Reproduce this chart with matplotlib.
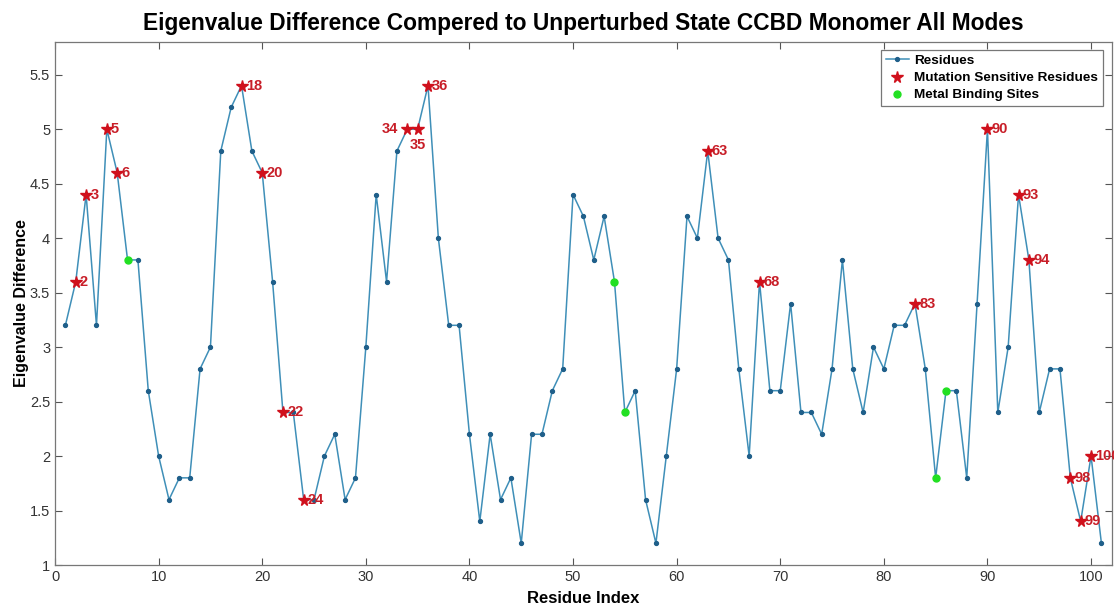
import numpy as np
import matplotlib.pyplot as plt

# eigenvalue difference per residue (1..101)
residues = np.arange(1, 102)
eig_diff = [3.2, 3.6, 4.4, 3.2, 5.0, 4.6, 3.8, 3.8, 2.6, 2.0,
            1.6, 1.8, 1.8, 2.8, 3.0, 4.8, 5.2, 5.4, 4.8, 4.6,
            3.6, 2.4, 2.4, 1.6, 1.6, 2.0, 2.2, 1.6, 1.8, 3.0,
            4.4, 3.6, 4.8, 5.0, 5.0, 5.4, 4.0, 3.2, 3.2, 2.2,
            1.4, 2.2, 1.6, 1.8, 1.2, 2.2, 2.2, 2.6, 2.8, 4.4,
            4.2, 3.8, 4.2, 3.6, 2.4, 2.6, 1.6, 1.2, 2.0, 2.8,
            4.2, 4.0, 4.8, 4.0, 3.8, 2.8, 2.0, 3.6, 2.6, 2.6,
            3.4, 2.4, 2.4, 2.2, 2.8, 3.8, 2.8, 2.4, 3.0, 2.8,
            3.2, 3.2, 3.4, 2.8, 1.8, 2.6, 2.6, 1.8, 3.4, 5.0,
            2.4, 3.0, 4.4, 3.8, 2.4, 2.8, 2.8, 1.8, 1.4, 2.0,
            1.2]

mutation_sites = [2, 3, 5, 6, 18, 20, 22, 24, 34, 35, 36, 63, 68, 83,
                  90, 93, 94, 98, 99, 100]
metal_sites = [7, 54, 55, 85, 86]

line_col = '#3f8fb8'
dot_col = '#1f5f8a'
star_col = '#d0101c'
text_col = '#c81e28'
green = '#22e022'

plt.rcParams['font.family'] = ['Liberation Sans', 'DejaVu Sans']

fig = plt.figure(figsize=(11.14, 6.08), dpi=100)
ax = fig.add_axes([0.0494, 0.0707, 0.9486, 0.8602])

vals = np.array(eig_diff)
ax.plot(residues, vals, '-', color=line_col, lw=1.1, marker='o', ms=2.8,
        mfc=dot_col, mec=dot_col, label='Residues', zorder=2)

mut_idx = np.array(mutation_sites)
ax.plot(mut_idx, vals[mut_idx - 1], '*', color=star_col, ms=8.5, ls='none',
        label='Mutation Sensitive Residues', zorder=3)

met_idx = np.array(metal_sites)
ax.plot(met_idx, vals[met_idx - 1], 'o', color=green, ms=5, ls='none',
        label='Metal Binding Sites', zorder=3)

for r in mutation_sites:
    v = vals[r - 1]
    if r == 34:
        ax.text(r - 0.9, v, str(r), color=text_col, fontsize=10.5,
                fontweight='bold', ha='right', va='center')
    elif r == 35:
        ax.text(r, v - 0.08, str(r), color=text_col, fontsize=10.5,
                fontweight='bold', ha='center', va='top')
    else:
        ax.text(r + 0.4, v, str(r), color=text_col, fontsize=10.5,
                fontweight='bold', ha='left', va='center')

ax.set_xlim(0, 102)
ax.set_ylim(1, 5.8)
ax.set_xticks(np.arange(0, 101, 10))
ax.set_yticks([1, 1.5, 2, 2.5, 3, 3.5, 4, 4.5, 5, 5.5])
ax.set_yticklabels(['1', '1.5', '2', '2.5', '3', '3.5', '4', '4.5', '5', '5.5'])
ax.tick_params(direction='in', top=True, right=True, length=5, width=0.8,
               colors='#555555', labelsize=10.5, labelcolor='#333333')
for s in ax.spines.values():
    s.set_color('#777777')
    s.set_linewidth(0.9)

ax.set_title('Eigenvalue Difference Compered to Unperturbed State CCBD Monomer All Modes',
             fontsize=16.4, fontweight='bold', pad=9)
ax.set_xlabel('Residue Index', fontsize=12, fontweight='bold', labelpad=5)
ax.set_ylabel('Eigenvalue Difference', fontsize=11.5, fontweight='bold', labelpad=1)

leg = ax.legend(loc='upper right', bbox_to_anchor=(0.994, 0.99),
                prop={'weight': 'bold', 'size': 9.7}, fancybox=False,
                framealpha=1, edgecolor='#777777', borderpad=0.35,
                labelspacing=0.35, handlelength=1.7, handletextpad=0.4,
                borderaxespad=0.2)
leg.get_frame().set_linewidth(0.9)

fig.savefig('out.png', dpi=100)
